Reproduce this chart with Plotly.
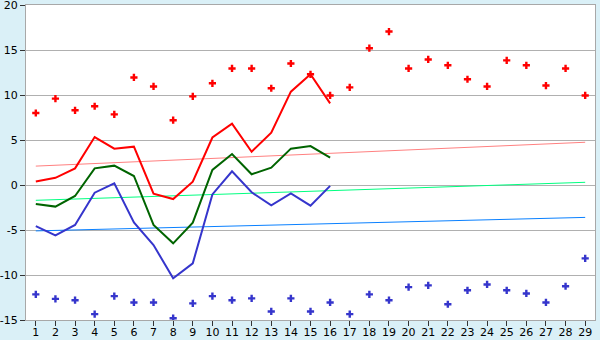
import plotly.graph_objects as go

days = list(range(1, 30))
tick_labels = [str(d) for d in days]

max_temp = [8.0, 9.6, 8.3, 8.75, 7.85, 11.95, 10.95, 7.2, 9.85, 11.3, 12.95, 12.95, 10.75, 13.5, 12.3,
            9.95, 10.85, 15.2, 17.05, 12.95, 13.95, 13.3, 11.75, 10.95, 13.85, 13.3, 11.05, 12.95, 9.95]
min_temp = [-12.15, -12.65, -12.8, -14.35, -12.35, -13.05, -13.05, -14.8, -13.15, -12.35, -12.8, -12.6,
            -14.05, -12.6, -14.05, -13.05, -14.35, -12.15, -12.8, -11.35, -11.15, -13.25, -11.7, -11.05,
            -11.7, -12.05, -13.05, -11.25, -8.15]

line_days = list(range(1, 17))
max_line = [0.4, 0.8, 1.85, 5.33, 4.04, 4.26, -0.96, -1.56, 0.37, 5.28, 6.82, 3.7, 5.82, 10.37, 12.3, 9.07]
mean_line = [-2.1, -2.4, -1.22, 1.85, 2.15, 1.0, -4.44, -6.48, -4.19, 1.67, 3.44, 1.19, 1.93, 4.04, 4.33, 3.04]
min_line = [-4.56, -5.59, -4.44, -0.85, 0.19, -4.15, -6.67, -10.37, -8.7, -1.04, 1.52, -0.81, -2.26, -0.93, -2.3, -0.1]

trend_days = [1, 29]
max_trend = [2.1, 4.75]
mean_trend = [-1.7, 0.3]
min_trend = [-5.1, -3.6]

fig = go.Figure()
fig.add_trace(go.Scatter(x=trend_days, y=max_trend, mode="lines", line=dict(color="#FF8080", width=1)))
fig.add_trace(go.Scatter(x=trend_days, y=mean_trend, mode="lines", line=dict(color="#00FF80", width=1)))
fig.add_trace(go.Scatter(x=trend_days, y=min_trend, mode="lines", line=dict(color="#0A80FF", width=1)))
fig.add_trace(go.Scatter(x=line_days, y=max_line, mode="lines", line=dict(color="#FF0000", width=2)))
fig.add_trace(go.Scatter(x=line_days, y=mean_line, mode="lines", line=dict(color="#006400", width=2)))
fig.add_trace(go.Scatter(x=line_days, y=min_line, mode="lines", line=dict(color="#3535CC", width=2)))
fig.add_trace(go.Scatter(x=days, y=max_temp, mode="markers",
                         marker=dict(symbol="cross", size=6, color="#FF0000", line=dict(width=0))))
fig.add_trace(go.Scatter(x=days, y=min_temp, mode="markers",
                         marker=dict(symbol="cross", size=6, color="#3535CC", line=dict(width=0))))

fig.update_layout(
    width=600, height=340,
    margin=dict(l=26, r=5, t=5, b=20, autoexpand=False),
    paper_bgcolor="#DAF0F7",
    plot_bgcolor="#FFFFFF",
    showlegend=False,
    font=dict(family="DejaVu Sans", size=11, color="#000000"),
)
fig.update_xaxes(
    range=[0.5, 29.5], tickmode="array", tickvals=days, ticktext=tick_labels,
    showgrid=False, zeroline=False, ticks="outside", ticklen=5, tickcolor="#333333",
    showline=True, linecolor="#A8A8A8", linewidth=1, mirror=True, fixedrange=True,
    automargin=False, ticklabeloverflow="allow", ticklabelstandoff=-3,
)
fig.update_yaxes(
    range=[-15, 20], tickmode="array", tickvals=[-15, -10, -5, 0, 5, 10, 15, 20],
    ticktext=["-15", "-10", "-5", "0", "5", "10", "15", "20"],
    showgrid=True, gridcolor="#B0B0B0", gridwidth=1, zeroline=False,
    ticks="outside", ticklen=5, tickcolor="#333333",
    showline=True, linecolor="#A8A8A8", linewidth=1, mirror=True, fixedrange=True,
    automargin=False, ticklabeloverflow="allow",
)

fig.write_html("out.html")
